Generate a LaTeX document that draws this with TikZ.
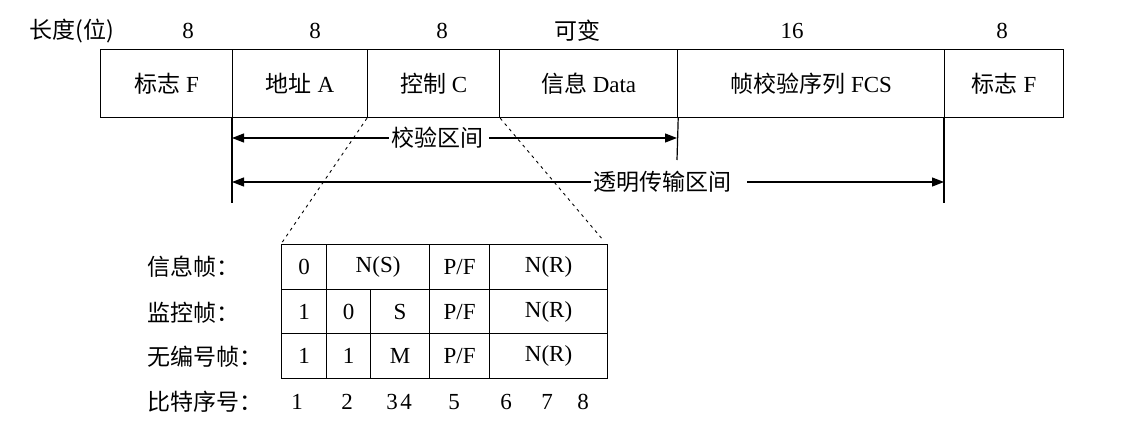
\documentclass[tikz,border=0pt]{standalone}
\usepackage{fontspec}
\setmainfont{Liberation Serif}
\newfontfamily\cjk{Noto Sans CJK SC}
\usetikzlibrary{arrows.meta}
\begin{document}
\begin{tikzpicture}[x=1pt,y=-1pt,
  field/.style={draw, line width=1.2pt, anchor=north west, inner sep=0pt,
    font=\fontsize{23}{26}\selectfont},
  lab/.style={inner sep=0pt, font=\fontsize{23}{26}\selectfont},
  gapped/.style={lab, fill=white, inner xsep=2pt, inner ysep=1pt},
  arr/.style={line width=1.2pt, -{Triangle[length=12pt,width=9pt]}},
  tick/.style={line width=1.2pt},
  zoomline/.style={line width=0.9pt, dash pattern=on 3pt off 4pt}]
\useasboundingbox (0,0) rectangle (1131,428);

% ---- frame layout (top row) ----
\node[field, minimum width=132pt, minimum height=68pt] (f1) at (100,49) {{\cjk 标志} F};
\node[field, minimum width=135pt, minimum height=68pt] (f2) at (232,49) {{\cjk 地址} A};
\node[field, minimum width=132pt, minimum height=68pt] (f3) at (367,49) {{\cjk 控制} C};
\node[field, minimum width=178pt, minimum height=68pt] (f4) at (499,49) {{\cjk 信息} Data};
\node[field, minimum width=267pt, minimum height=68pt] (f5) at (677,49) {{\cjk 帧校验序列} FCS};
\node[field, minimum width=119pt, minimum height=68pt] (f6) at (944,49) {{\cjk 标志} F};

% ---- field lengths ----
\node[lab] (len0) at (72,31) {\cjk 长度(位)};
\node[lab] (len1) at (188,31) {8};
\node[lab] (len2) at (315,31) {8};
\node[lab] (len3) at (442,31) {8};
\node[lab] (len4) at (577,31) {\cjk 可变};
\node[lab] (len5) at (792,31) {16};
\node[lab] (len6) at (1002,31) {8};

% ---- extension ticks below the frame ----
\coordinate (v1) at (232,203);
\coordinate (v2) at (677,160);
\coordinate (v3) at (944,203);
\draw[tick] (f2.south west) -- (v1);
\draw[tick] (f4.south east) -- (v2);
\draw[tick] (f6.south west) -- (v3);

% ---- checked span ----
\coordinate (a1L) at (232,138);
\coordinate (a1R) at (677,138);
\node[gapped] (span1) at (437,138) {\cjk 校验区间};
\draw[arr] (span1.west) -- (a1L);
\draw[arr] ([xshift=4pt]span1.east) -- (a1R);

% ---- transparent span ----
\coordinate (a2L) at (232,182);
\coordinate (a2R) at (944,182);
\node[gapped] (span2) at (662,182) {\cjk 透明传输区间};
\draw[arr] (span2.west) -- (a2L);
\draw[arr] ([xshift=14pt]span2.east) -- (a2R);

% ---- control field formats ----
\node[field, minimum width=45pt,  minimum height=45pt] (r1a) at (281,244) {0};
\node[field, minimum width=103pt, minimum height=45pt] (r1b) at (326,244) {N(S)};
\node[field, minimum width=60pt,  minimum height=45pt] (r1c) at (429,244) {P/F};
\node[field, minimum width=118pt, minimum height=45pt] (r1d) at (489,244) {N(R)};

\node[field, minimum width=45pt,  minimum height=44pt] (r2a) at (281,289) {1};
\node[field, minimum width=44pt,  minimum height=44pt] (r2b) at (326,289) {0};
\node[field, minimum width=59pt,  minimum height=44pt] (r2c) at (370,289) {S};
\node[field, minimum width=60pt,  minimum height=44pt] (r2d) at (429,289) {P/F};
\node[field, minimum width=118pt, minimum height=44pt] (r2e) at (489,289) {N(R)};

\node[field, minimum width=45pt,  minimum height=45pt] (r3a) at (281,333) {1};
\node[field, minimum width=44pt,  minimum height=45pt] (r3b) at (326,333) {1};
\node[field, minimum width=59pt,  minimum height=45pt] (r3c) at (370,333) {M};
\node[field, minimum width=60pt,  minimum height=45pt] (r3d) at (429,333) {P/F};
\node[field, minimum width=118pt, minimum height=45pt] (r3e) at (489,333) {N(R)};

% ---- zoom guides from the control field ----
\draw[zoomline] (f3.south west) -- (r1a.north west);
\draw[zoomline] (f3.south east) -- ([xshift=-6pt,yshift=5pt]r1d.north east);

% ---- row captions ----
\node[lab, anchor=west] (cap1) at (147,267) {\cjk 信息帧：};
\node[lab, anchor=west] (cap2) at (147,313) {\cjk 监控帧：};
\node[lab, anchor=west] (cap3) at (147,357) {\cjk 无编号帧：};
\node[lab, anchor=west] (cap4) at (147,402) {\cjk 比特序号：};

% ---- bit numbers ----
\node[lab] (b1) at (297,402) {1};
\node[lab] (b2) at (347,402) {2};
\node[lab] (b3) at (392,402) {3};
\node[lab] (b4) at (406,402) {4};
\node[lab] (b5) at (454,402) {5};
\node[lab] (b6) at (506,402) {6};
\node[lab] (b7) at (547,402) {7};
\node[lab] (b8) at (583,402) {8};
\end{tikzpicture}
\end{document}
